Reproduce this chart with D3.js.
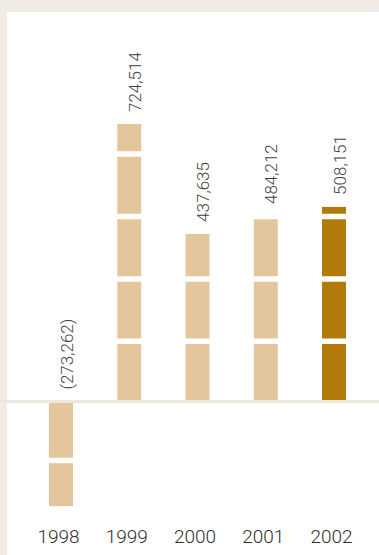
<!DOCTYPE html>
<html>
<head>
<meta charset="utf-8">
<script src="https://cdn.jsdelivr.net/npm/d3@7/dist/d3.min.js"></script>
<style>
  html, body { margin: 0; padding: 0; background: #f0ebe4; }
  svg { display: block; }
</style>
</head>
<body>
<svg id="chart" width="379" height="555"></svg>
<script>
// Yearly results (negative values shown in brackets)
const years = ["1998", "1999", "2000", "2001", "2002"];
const values = [-273262, 724514, 437635, 484212, 508151];
const valueLabels = ["(273,262)", "724,514", "437,635", "484,212", "508,151"];
// Levels of the white bands that cut across the bars
const bandLevels = [-154000, 157000, 320000, 483000, 646000];
// The latest year is highlighted
const highlightYear = "2002";

const W = 379, H = 555;
const svg = d3.select("#chart");

// page background and white panel
svg.append("rect").attr("width", W).attr("height", H).attr("fill", "#f0ebe4");
svg.append("rect").attr("x", 7).attr("y", 12).attr("width", W - 7).attr("height", H - 12).attr("fill", "#ffffff");

const x = d3.scalePoint().domain(years).range([61, 334]);
const y = d3.scaleLinear().domain([0, 800000]).range([401.5, 95.1]);
const barW = 24;

const data = years.map((yr, i) => ({ year: yr, value: values[i], label: valueLabels[i] }));

// bars
svg.append("g").selectAll("rect").data(data).join("rect")
  .attr("x", d => x(d.year) - barW / 2)
  .attr("width", barW)
  .attr("y", d => Math.min(y(d.value), y(0)))
  .attr("height", d => Math.abs(y(d.value) - y(0)))
  .attr("fill", d => d.year === highlightYear ? "#b17a0a" : "#e3c69c");

// white bands across the bars
svg.append("g").selectAll("line").data(bandLevels).join("line")
  .attr("x1", 7).attr("x2", W)
  .attr("y1", d => y(d)).attr("y2", d => y(d))
  .attr("stroke", "#ffffff").attr("stroke-width", 5.5);

// zero line
svg.append("line")
  .attr("x1", 0).attr("x2", W)
  .attr("y1", y(0)).attr("y2", y(0))
  .attr("stroke", "#ede7de").attr("stroke-width", 3);

const font = "Roboto, 'Liberation Sans', Arial, sans-serif";

// value labels, rotated, sitting above each bar (or above the zero line for losses)
svg.append("g").selectAll("text").data(data).join("text")
  .attr("transform", d => {
    const top = Math.min(y(d.value), y(0));
    return `translate(${x(d.year) + 11.5},${top - 12}) rotate(-90)`;
  })
  .attr("text-anchor", "start")
  .attr("font-family", font)
  .attr("font-weight", 300)
  .attr("font-size", 17)
  .attr("fill", "#3f3f3f")
  .text(d => d.label);

// year labels
const xAxis = d3.axisBottom(x).tickSize(0).tickPadding(0);
const gx = svg.append("g").attr("transform", "translate(-3,0)").call(xAxis);
gx.select(".domain").remove();
gx.selectAll("text")
  .attr("y", 543)
  .attr("dy", 0)
  .attr("font-family", font)
  .attr("font-weight", 300)
  .attr("font-size", 19)
  .attr("fill", "#2f2f2f");
</script>
</body>
</html>
